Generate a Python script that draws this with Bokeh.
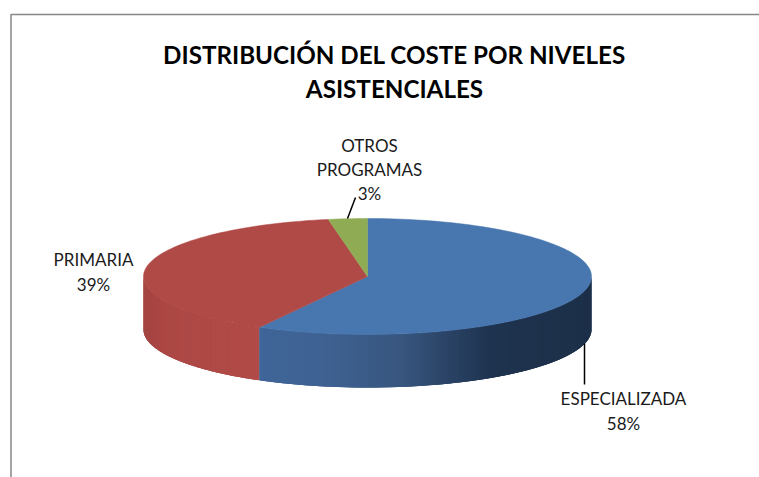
import math
from bokeh.plotting import figure
from bokeh.core.properties import value
from bokeh.embed import file_html
from bokeh.resources import INLINE

# --- data ---
categories = ["ESPECIALIZADA", "PRIMARIA", "OTROS PROGRAMAS"]
percent = [58.0, 39.2, 2.8]
title_lines = ["DISTRIBUCIÓN DEL COSTE POR NIVELES", "ASISTENCIALES"]
label_lines = [["ESPECIALIZADA"], ["PRIMARIA"], ["OTROS", "PROGRAMAS"]]

# --- layout / style ---
W, H = 759, 477
CX, CY, RX, RY, DEPTH = 367.0, 276.0, 224.0, 58.0, 53.0
TOP = ["#4876AF", "#B04A47", "#8FAC55"]
BLUE_STOPS = [(259, (63, 101, 152)), (330, (62, 97, 145)), (400, (56, 86, 127)), (490, (30, 51, 79)), (591, (29, 48, 73))]
RED_STOPS = [(143, (163, 68, 65)), (165, (172, 72, 69)), (259, (177, 75, 72))]
FONT = "Lato"
LABEL_POS = [(623, [398, 423]), (93, [259, 284]), (369, [145, 169, 193])]
LEADERS = [([584, 584], [343, 384]), None, ([347, 355], [218, 197])]

p = figure(width=W, height=H, x_range=(0, W), y_range=(H, 0),
           output_backend="svg", toolbar_location=None, min_border=0,
           background_fill_color="white", border_fill_color="white")
p.axis.visible = False
p.grid.visible = False
p.outline_line_color = None


def pt(theta):
    return CX + RX * math.sin(theta), CY - RY * math.cos(theta)


def lerp_color(stops, x):
    if x <= stops[0][0]:
        c = stops[0][1]
    elif x >= stops[-1][0]:
        c = stops[-1][1]
    else:
        for (x0, c0), (x1, c1) in zip(stops, stops[1:]):
            if x0 <= x <= x1:
                t = (x - x0) / (x1 - x0)
                c = tuple(a + (b - a) * t for a, b in zip(c0, c1))
                break
    return "#%02x%02x%02x" % tuple(int(round(v)) for v in c)


# angles of the slices, clockwise from the top
total = sum(percent)
angles = [0.0]
for v in percent:
    angles.append(angles[-1] + 2 * math.pi * v / total)

# side wall (front half only): each strip runs under the next one to hide seams
for j, stops in [(1, RED_STOPS), (0, BLUE_STOPS)]:
    a0 = max(angles[j], math.pi / 2)
    a1 = min(angles[j + 1], 3 * math.pi / 2)
    n = 160
    xs, ys, cols = [], [], []
    for k in range(n):
        t0 = a0 + (a1 - a0) * k / n
        t1 = a0 + (a1 - a0) * min(k + 3, n) / n
        x0, y0 = pt(t0)
        x1, y1 = pt(t1)
        xm = pt(a0 + (a1 - a0) * (k + 0.5) / n)[0]
        xs.append([x0, x1, x1, x0])
        ys.append([y0, y1, y1 + DEPTH, y0 + DEPTH])
        cols.append(lerp_color(stops, xm))
    p.patches(xs, ys, fill_color=cols, line_color=None)

# top face
for i in range(len(percent)):
    n = max(8, int(200 * percent[i] / total))
    ts = [angles[i] + (angles[i + 1] - angles[i]) * k / n for k in range(n + 1)]
    xs = [CX] + [pt(t)[0] for t in ts]
    ys = [CY] + [pt(t)[1] for t in ts]
    p.patch(xs, ys, fill_color=TOP[i], line_color=TOP[i], line_width=0.5)

# leader lines
for seg in LEADERS:
    if seg:
        p.line(seg[0], seg[1], line_color="black", line_width=1.5)

# chart frame (runs off the picture at right and bottom)
p.line([10.5, 10.5, W], [H, 14, 14], line_color="#868686", line_width=1.5)

# title
for line, y in zip(title_lines, [54, 88]):
    p.text([394], [y], text=[line], text_font=value(FONT), text_font_style="bold",
           text_font_size="24.2px", text_align="center", text_baseline="middle", text_color="black")

# labels
for lines, v, (x, ys) in zip(label_lines, percent, LABEL_POS):
    for line, y in zip(lines + [f"{round(v)}%"], ys):
        p.text([x], [y], text=[line], text_font=value(FONT), text_font_size="17px",
               text_align="center", text_baseline="middle", text_color="#1a1a1a")

open("out.html", "w").write(file_html(p, INLINE))
